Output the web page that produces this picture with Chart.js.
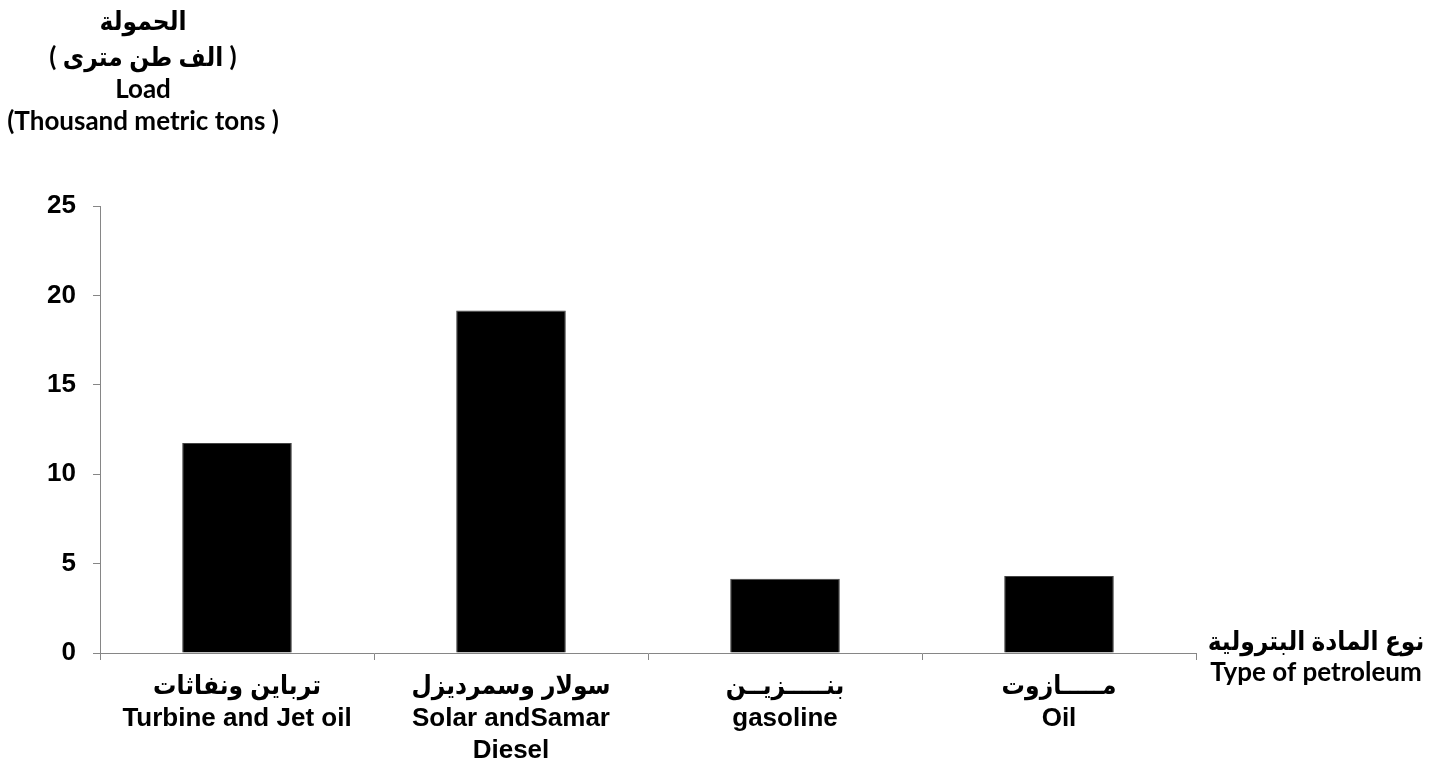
<!DOCTYPE html>
<html>
<head>
<meta charset="utf-8">
<script src="https://cdn.jsdelivr.net/npm/chart.js@4.4.0/dist/chart.umd.min.js"></script>
<style>
  html, body { margin: 0; padding: 0; background: #fff; }
</style>
</head>
<body>
<canvas id="myChart" width="1437" height="765"></canvas>
<script>
// ******* DATA ******************
let categories = [
  ['ترباين ونفاثات', 'Turbine and Jet oil'],
  ['سولار وسمرديزل', 'Solar andSamar', 'Diesel'],
  ['بنـــــزيــن', 'gasoline'],
  ['مـــــازوت', 'Oil']
];
let loadValues = [11.75, 19.15, 4.15, 4.3];   // thousand metric tons
let yTicks = [0, 5, 10, 15, 20, 25];

let yTitle = ['الحمولة', '( الف طن مترى )', 'Load', '(Thousand metric tons )'];
let xTitle = ['نوع المادة البترولية', 'Type of petroleum'];

let axisGray = '#868686';
let sansFamily = "'Liberation Sans', Arial, 'DejaVu Sans Condensed', 'DejaVu Sans', sans-serif";

// draws the two axis titles (top left and right of the x axis)
const titlePlugin = {
  id: 'titlePlugin',
  afterDraw(chart) {
    const ctx = chart.ctx;
    ctx.save();
    ctx.fillStyle = '#000';
    ctx.textAlign = 'center';
    ctx.textBaseline = 'middle';
    ctx.font = "bold 26px Lato, 'DejaVu Sans Condensed', 'DejaVu Sans', sans-serif";
    let yLines = [22, 58, 90, 122];
    for (let i = 0; i < yTitle.length; i++) {
      ctx.fillText(yTitle[i], 143, yLines[i]);
    }
    let xLines = [642, 673];
    for (let i = 0; i < xTitle.length; i++) {
      ctx.fillText(xTitle[i], 1316, xLines[i]);
    }
    ctx.restore();
  }
};

const data = {
  labels: categories,
  datasets: [{
    label: 'Load',
    data: loadValues,
    backgroundColor: '#000',
    borderColor: '#444',
    borderWidth: 1,
    categoryPercentage: 1,
    barPercentage: 0.4
  }]
};

const config = {
  type: 'bar',
  data: data,
  options: {
    responsive: false,
    devicePixelRatio: 1,
    animation: false,
    layout: { padding: { left: 0, right: 241, top: 206, bottom: 0 } },
    plugins: {
      legend: { display: false },
      tooltip: { enabled: false }
    },
    scales: {
      x: {
        type: 'category',
        offset: true,
        afterFit(scale) { scale.height = 112; },
        grid: { offset: true, drawOnChartArea: false, drawTicks: true, tickLength: 7, color: axisGray },
        border: { color: axisGray, width: 1 },
        ticks: { color: '#000', font: { family: sansFamily, size: 26, weight: 'bold', lineHeight: 1.23 }, padding: 11, maxRotation: 0, autoSkip: false }
      },
      y: {
        min: 0,
        max: 25,
        afterFit(scale) { scale.width = 100; },
        afterBuildTicks(scale) { scale.ticks = yTicks.map(v => ({ value: v })); },
        grid: { drawOnChartArea: false, drawTicks: true, tickLength: 7, color: axisGray },
        border: { color: axisGray, width: 1 },
        ticks: { color: '#000', font: { family: sansFamily, size: 26, weight: 'bold' }, padding: 17 }
      }
    }
  },
  plugins: [titlePlugin]
};

let canvasChart = document.getElementById('myChart');
const myChart = new Chart(canvasChart, config);
</script>
</body>
</html>
